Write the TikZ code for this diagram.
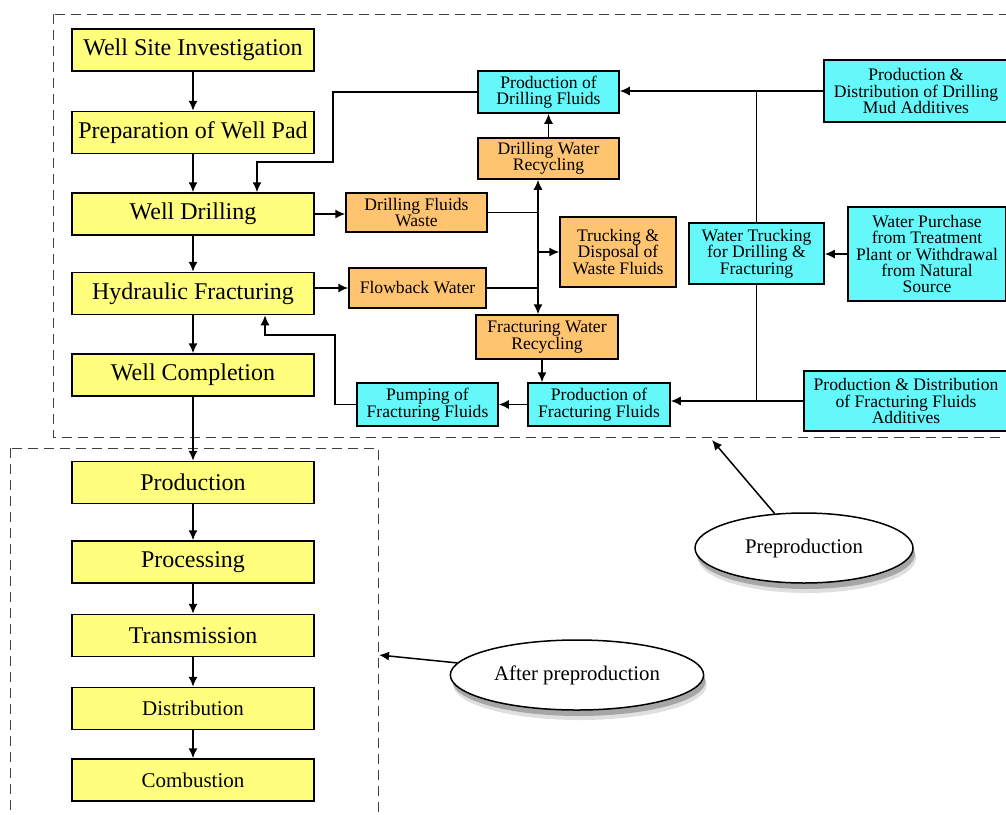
\documentclass[tikz,border=0pt]{standalone}
\usepackage{fontspec}
\setmainfont{Liberation Serif}
\usepackage{xcolor}
\usepackage{tikz}
\usetikzlibrary{arrows,arrows.meta}
\usetikzlibrary{calc}
\usetikzlibrary{shapes.geometric}
\usetikzlibrary{shadows}
\definecolor{stagey}{RGB}{255,255,125}
\definecolor{fluidc}{RGB}{100,248,250}
\definecolor{wasteo}{RGB}{255,196,112}

\begin{document}
\begin{tikzpicture}[x=0.5pt,y=-0.5pt,line width=0.75pt,>={Latex[length=5pt,width=4.5pt]},
	stage/.style={draw,fill=stagey,minimum width=121pt,minimum height=21pt,inner sep=1pt,font=\fontsize{12}{13}\selectfont},
	fluid/.style={draw,fill=fluidc,align=center,inner sep=1pt,font=\fontsize{8.8}{8.2}\selectfont},
	waste/.style={fluid,fill=wasteo},
	note/.style={draw,ellipse,fill=white,minimum width=109pt,minimum height=35pt,font=\fontsize{10.4}{12}\selectfont,
		drop shadow={shadow xshift=1.5pt,shadow yshift=-5pt,opacity=0.25},
		drop shadow={shadow xshift=1pt,shadow yshift=-3pt,opacity=0.6}},
	zone/.style={dash pattern=on 5pt off 3pt,line width=0.5pt,black!75}]
	\path[use as bounding box,clip] (0,0) rectangle (1006,814);
	
	\draw[zone] (53,14) rectangle (1012,437);
	\draw[zone] (10,448) rectangle (378,830);
	
	\node[stage] (wsi) at (193,50) {Well Site Investigation};
	\node[stage] (pad) at (193,132.5) {Preparation of Well Pad};
	\node[stage] (drill) at (193,214) {Well Drilling};
	\node[stage] (frac) at (193,293.5) {Hydraulic Fracturing};
	\node[stage] (compl) at (193,375) {Well Completion};
	
	\node[stage] (prod) at (193,482.5) {Production};
	\node[stage] (proc) at (193,562) {Processing};
	\node[stage] (trans) at (193,635.5) {Transmission};
	\node[stage,font=\fontsize{10.5}{12}\selectfont] (distr) at (193,708.5) {Distribution};
	\node[stage,font=\fontsize{10.5}{12}\selectfont] (comb) at (193,780) {Combustion};
	
	\node[fluid,minimum width=70.5pt,minimum height=21pt] (pdf) at (548.5,92) {Production of\\Drilling Fluids};
	\node[waste,minimum width=70.5pt,minimum height=20.5pt] (dwr) at (548.5,158.5) {Drilling Water\\Recycling};
	\node[waste,minimum width=70.5pt,minimum height=19.5pt] (dfw) at (416.5,212.5) {Drilling Fluids\\Waste};
	\node[waste,minimum width=58pt,minimum height=35pt] (tdw) at (618,252) {Trucking \&\\Disposal of\\Waste Fluids};
	\node[waste,minimum width=68.5pt,minimum height=20pt] (fbw) at (417.5,288) {Flowback Water};
	\node[waste,minimum width=71pt,minimum height=22pt] (fwr) at (547,337) {Fracturing Water\\Recycling};
	\node[fluid,minimum width=71pt,minimum height=21.5pt] (pff) at (599,404.5) {Production of\\Fracturing Fluids};
	\node[fluid,minimum width=70.5pt,minimum height=21.5pt] (pump) at (427.5,404.5) {Pumping of\\Fracturing Fluids};
	\node[fluid,minimum width=92pt,minimum height=31pt] (pdm) at (916,91) {Production \&\\Distribution of Drilling\\Mud Additives};
	\node[fluid,minimum width=67.5pt,minimum height=30.5pt] (wt) at (756.5,253.5) {Water Trucking\\for Drilling \&\\Fracturing};
	\node[fluid,minimum width=79pt,minimum height=47pt] (wp) at (927,254) {Water Purchase\\from Treatment\\Plant or Withdrawal\\from Natural\\Source};
	\node[fluid,minimum width=102pt,minimum height=30pt] (pdfa) at (906,401) {Production \& Distribution\\of Fracturing Fluids\\Additives};
	
	\node[note] (pre) at (804,548) {Preproduction};
	\node[note,minimum width=120pt] (after) at (577,675) {After preproduction};
	\coordinate (pretip) at (712,440);
	\coordinate (aftertip) at (379,655);
	\coordinate (bus) at (538,252);
	
	\draw[->] (wsi) -- (pad);
	\draw[->] (pad) -- (drill);
	\draw[->] (drill) -- (frac);
	\draw[->] (frac) -- (compl);
	\draw[->] (compl) -- (prod);
	\draw[->] (prod) -- (proc);
	\draw[->] (proc) -- (trans);
	\draw[->] (trans) -- (distr);
	\draw[->] (distr) -- (comb);
	
	\draw[->] (pdf.west) -| (333,162) -| ([xshift=32pt]drill.north);
	\draw[->] (pump.west) -| (335,335) -| ([xshift=36pt]frac.south);
	\draw[->] (drill.east) -- (drill.east -| dfw.west);
	\draw[->] (frac.east |- fbw.west) -- (fbw.west);
	\draw[->] (dwr) -- (pdf);
	\draw[->] (bus) -- (bus |- dwr.south);
	\draw[->] (bus) -- (bus |- fwr.north);
	\draw (dfw.east) -- (dfw.east -| bus);
	\draw (fbw.east) -- (fbw.east -| bus);
	\draw[->] (bus) -- (tdw.west);
	\draw[->] ([xshift=-2.5pt]fwr.south) -- ([xshift=-2.5pt]fwr.south |- pff.north);
	\draw[->] (pff) -- (pump);
	\draw[->] (pdm.west) -- (pdm.west -| pdf.east);
	\draw (wt.north) -- (wt.north |- pdm.west);
	\draw (wt.south) -- (wt.south |- pdfa.west);
	\draw[->] (wp.west) -- (wp.west -| wt.east);
	\draw[->] (pdfa.west) -- (pdfa.west -| pff.east);
	
	\draw[->] (pre) -- (pretip);
	\draw[->] (after) -- (aftertip);
\end{tikzpicture}
\end{document}
